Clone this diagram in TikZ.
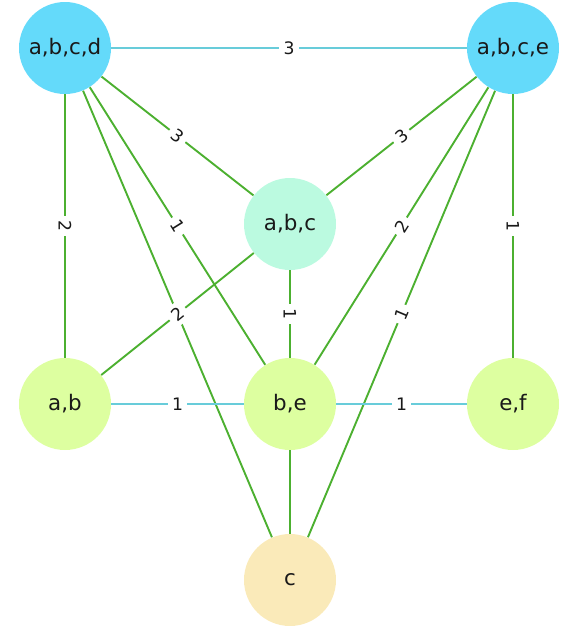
\documentclass[tikz,border=0pt]{standalone}
\usepackage{fontspec}
\setmainfont{DejaVu Sans}
\usetikzlibrary{positioning}
\definecolor{setcyan}{RGB}{100, 218, 250}
\definecolor{setmint}{RGB}{187, 250, 224}
\definecolor{setlime}{RGB}{221, 255, 160}
\definecolor{setcream}{RGB}{250, 234, 185}
\definecolor{linkgreen}{RGB}{76, 176, 48}
\definecolor{linkcyan}{RGB}{104, 204, 218}
\definecolor{inkgray}{RGB}{25, 25, 25}

\begin{document}
\begin{tikzpicture}[x=0.5pt, y=-0.5pt,
        set/.style={circle, minimum size=46pt, inner sep=0pt,
                    text=inkgray, font=\fontsize{10.7}{12}\selectfont},
        gedge/.style={line width=0.95pt, linkgreen},
        cedge/.style={line width=0.95pt, linkcyan},
        lbl/.style={fill=white, inner sep=2.2pt, text=inkgray,
                    font=\fontsize{8.6}{10}\selectfont},
      ]
        \useasboundingbox (0,0) rectangle (564,628);

        \node[set, fill=setcyan] (abcd) at (65,48) {a,b,c,d};
        \node[set, fill=setcyan] (abce) at (513,48) {a,b,c,e};
        \node[set, fill=setmint] (abc) at (290,224) {a,b,c};
        \node[set, fill=setlime] (ab) at (65,404) {a,b};
        \node[set, fill=setlime] (be) at (290,404) {b,e};
        \node[set, fill=setlime] (ef) at (513,404) {e,f};
        \node[set, fill=setcream] (c) at (290,580) {c};

        % edges with their weights
        \draw[cedge] (abcd) -- node[lbl] {3} (abce);
        \draw[gedge] (abcd) -- node[lbl, rotate=-38] {3} (abc);
        \draw[gedge] (abc) -- node[lbl, rotate=38] {3} (abce);
        \draw[gedge] (abcd) -- node[lbl, rotate=-90] {2} (ab);
        \draw[gedge] (abcd) -- node[lbl, rotate=-58] {1} (be);
        \draw[gedge] (abcd) -- node[lbl, rotate=-67] {2} (c);
        \draw[gedge] (be) -- node[lbl, rotate=58] {2} (abce);
        \draw[gedge] (c) -- node[lbl, rotate=67] {1} (abce);
        \draw[gedge] (abce) -- node[lbl, rotate=-90] {1} (ef);
        \draw[gedge] (ab) -- node[lbl, rotate=39] {2} (abc);
        \draw[gedge] (abc) -- node[lbl, rotate=-90] {1} (be);
        \draw[cedge] (ab) -- node[lbl] {1} (be);
        \draw[cedge] (be) -- node[lbl] {1} (ef);
        \draw[gedge] (be) -- (c);
      \end{tikzpicture}
\end{document}
